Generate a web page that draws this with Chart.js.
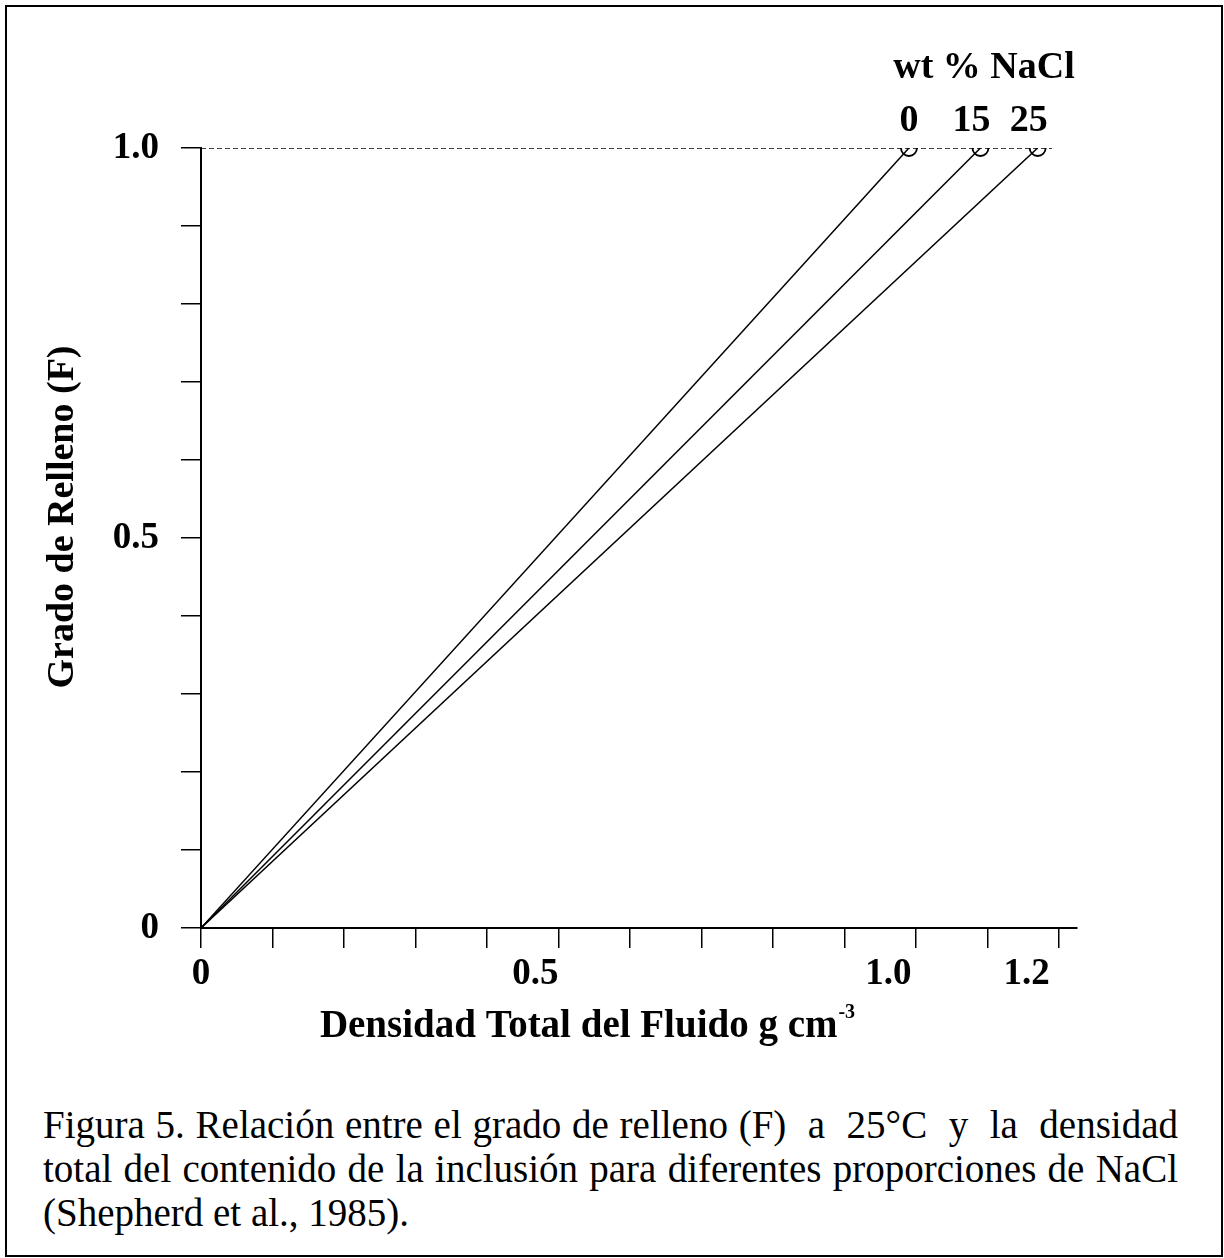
<!DOCTYPE html>
<html>
<head>
<meta charset="utf-8">
<script src="https://cdn.jsdelivr.net/npm/chart.js@4"></script>
<style>
  html, body { margin: 0; padding: 0; background: #fff; }
  #page { position: relative; width: 1224px; height: 1258px; overflow: hidden; background: #fff; }
  #frame { position: absolute; left: 5px; top: 5px; width: 1214px; height: 1248px; border: 2px solid #000; box-sizing: content-box; }
  #chartBox { position: absolute; left: 0; top: 0; width: 1224px; height: 1060px; }
  #caption { position: absolute; left: 43px; top: 1103px; width: 1135px; font-family: "Liberation Serif", "DejaVu Serif", serif; font-size: 39px; line-height: 44px; color: #000; }
  #caption .j { text-align: justify; text-align-last: justify; white-space: nowrap; }
</style>
</head>
<body>
<div id="page">
  <div id="frame"></div>
  <div id="chartBox"><canvas id="c" width="1224" height="1060"></canvas></div>
  <div id="caption">
    <div class="j">Figura 5. Relación entre el grado de relleno (F) &nbsp;a &nbsp;25°C &nbsp;y &nbsp;la &nbsp;densidad</div>
    <div class="j">total del contenido de la inclusión para diferentes proporciones de NaCl</div>
    <div>(Shepherd et al., 1985).</div>
  </div>
</div>
<script>
// ---- data ----
const naclLabels = ['0', '15', '25'];          // wt % NaCl
const endDensity = [0.99, 1.09, 1.17];          // total fluid density at F = 1.0
const endFill = [1.0, 1.0, 1.0];                // degree of fill at endpoint
const xTickLabels = { '0': '0', '0.5': '0.5     ', '1': '1.0      ', '1.2': '1.2       ' };
const yTickLabels = { '0': '0', '0.5': '0.5', '1': '1.0' };
const refLineX = [0, 1.19];
const refLineY = [1.0, 1.0];

const SERIF = '"Liberation Serif", "DejaVu Serif", serif';

const datasets = naclLabels.map((lab, i) => ({
  label: lab + ' wt% NaCl',
  data: [{x: 0, y: 0}, {x: endDensity[i], y: endFill[i]}],
  borderColor: '#000',
  borderWidth: 1.5,
  pointRadius: [0, 8],
  pointBorderWidth: 1.8,
  pointBorderColor: '#000',
  pointBackgroundColor: 'rgba(0,0,0,0)',
  showLine: true,
  fill: false,
  tension: 0
}));
datasets.unshift({
  label: 'F = 1',
  data: refLineX.map((x, i) => ({x, y: refLineY[i]})),
  borderColor: '#000',
  borderWidth: 1.5,
  borderDash: [5, 3],
  pointRadius: 0,
  showLine: true,
  fill: false
});

function keyOf(v) { return String(Math.round(v * 10) / 10); }

const annot = {
  id: 'annot',
  afterDraw(chart) {
    const ctx = chart.ctx;
    const xs = chart.scales.x;
    ctx.save();
    ctx.fillStyle = '#000';
    ctx.textAlign = 'center';
    ctx.textBaseline = 'alphabetic';
    ctx.font = 'bold 38px ' + SERIF;
    ctx.fillText('wt % NaCl', 984, 78);
    const offs = [0, -9, -9];
    naclLabels.forEach((lab, i) => {
      ctx.fillText(lab, xs.getPixelForValue(endDensity[i]) + offs[i], 131);
    });
    // x axis title with superscript
    const main = 'Densidad Total del Fluido g cm';
    const sup = '-3';
    ctx.font = 'bold 39px ' + SERIF;
    const wMain = ctx.measureText(main).width;
    ctx.font = 'bold 20px ' + SERIF;
    const wSup = ctx.measureText(sup).width;
    const x0 = 587 - (wMain + wSup) / 2;
    ctx.textAlign = 'left';
    ctx.font = 'bold 39px ' + SERIF;
    ctx.fillText(main, x0, 1037);
    ctx.font = 'bold 20px ' + SERIF;
    ctx.fillText(sup, x0 + wMain + 1, 1018);
    // y axis title
    ctx.save();
    ctx.translate(63, 517);
    ctx.rotate(-Math.PI / 2);
    ctx.textAlign = 'center';
    ctx.textBaseline = 'middle';
    ctx.font = 'bold 38px ' + SERIF;
    ctx.fillText('Grado de Relleno (F)', 0, 0);
    ctx.restore();
    ctx.restore();
  }
};

new Chart(document.getElementById('c'), {
  type: 'scatter',
  data: { datasets },
  options: {
    responsive: false,
    animation: false,
    devicePixelRatio: 1,
    layout: { padding: { left: 0, right: 147, top: 148, bottom: 0 } },
    plugins: { legend: { display: false }, tooltip: { enabled: false } },
    scales: {
      x: {
        type: 'linear',
        min: 0, max: 1.225,
        grid: { display: true, drawOnChartArea: false, drawTicks: true, tickLength: 20, color: '#000', lineWidth: 1.5 },
        border: { display: true, color: '#000', width: 2 },
        ticks: {
          stepSize: 0.1, includeBounds: false, autoSkip: false, maxRotation: 0,
          color: '#000', padding: 4,
          font: { family: SERIF, size: 37, weight: 'bold' },
          callback: (v) => xTickLabels[keyOf(v)] !== undefined && Math.abs(v * 10 - Math.round(v * 10)) < 1e-6 ? (xTickLabels[keyOf(v)]) : ''
        },
        afterFit(scale) { scale.height = 132; }
      },
      y: {
        type: 'linear',
        min: 0, max: 1.0,
        grid: { display: true, drawOnChartArea: false, drawTicks: true, tickLength: 20, color: '#000', lineWidth: 1.5 },
        border: { display: true, color: '#000', width: 2 },
        ticks: {
          stepSize: 0.1, autoSkip: false,
          color: '#000', padding: 22,
          font: { family: SERIF, size: 37, weight: 'bold' },
          callback: (v) => yTickLabels[keyOf(v)] !== undefined ? yTickLabels[keyOf(v)] : ''
        },
        afterFit(scale) { scale.width = 201; }
      }
    }
  },
  plugins: [annot]
});
</script>
</body>
</html>
